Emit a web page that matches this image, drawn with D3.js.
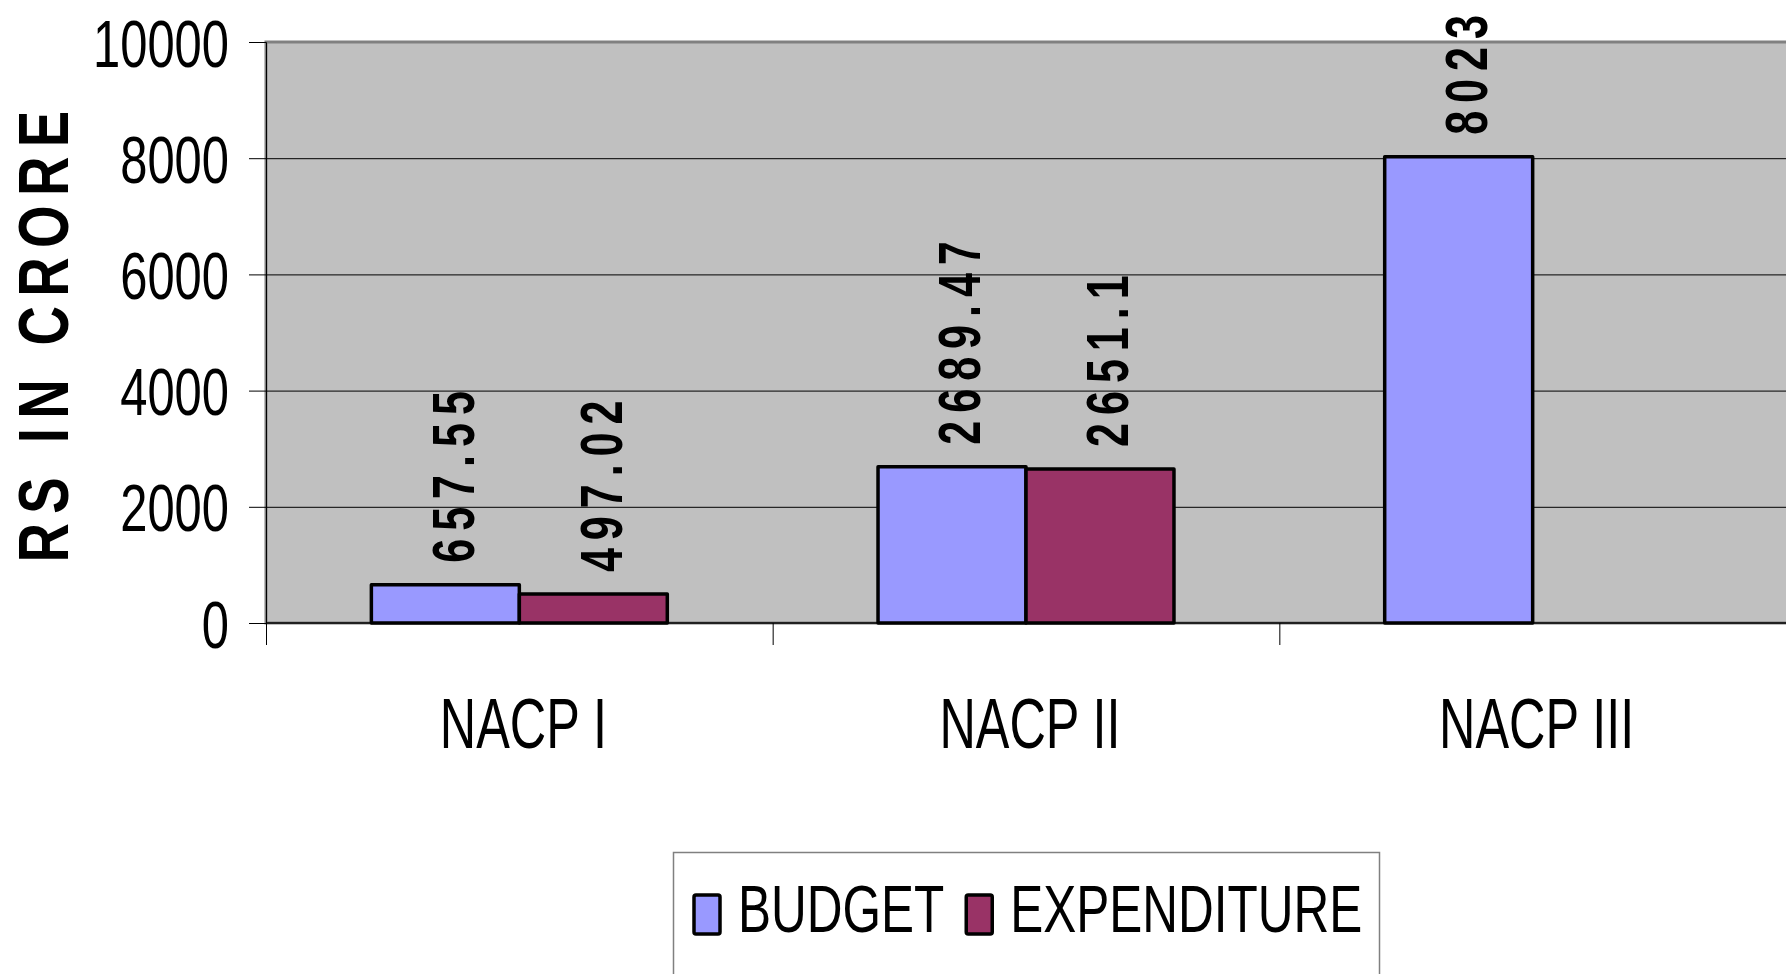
<!DOCTYPE html>
<html lang="en">
    <head>
        <title>NACP budget and expenditure</title>
        <script src="https://d3js.org/d3.v7.min.js"></script>
        <style>
            body { margin: 0; background: #fff; }
            text { font-family: "Liberation Sans", Arial, sans-serif; fill: #000; }
        </style>
    </head>
    <body>

    <div id="mainDiv"></div>

        <script type="text/javascript">
            // data
            const categories = ['NACP I', 'NACP II', 'NACP III']
            const seriesNames = ['BUDGET', 'EXPENDITURE']
            const budget = [657.55, 2689.47, 8023]
            const expenditure = [497.02, 2651.1, null] // no expenditure bar for NACP III
            const yTicks = [0, 2000, 4000, 6000, 8000, 10000]
            const colors = ['#9999FF', '#993366']

            const width = 1786
            const height = 974
            const plot = { left: 266, right: 1786, top: 42, bottom: 623 }

            const svg = d3.select('#mainDiv').append('svg')
                .attr('width', width)
                .attr('height', height)

            const x0 = d3.scaleBand()
                .domain(categories)
                .range([plot.left, plot.right])
                .padding(0)
            const x1 = d3.scaleBand()
                .domain(seriesNames)
                .range([0, x0.bandwidth()])
                .paddingInner(0)
                .paddingOuter(0.712)
            const yScale = d3.scaleLinear()
                .domain([0, 10000])
                .range([plot.bottom, plot.top])

            // plot background with grey frame
            svg.append('rect')
                .attr('x', plot.left)
                .attr('y', plot.top)
                .attr('width', plot.right - plot.left + 10)
                .attr('height', plot.bottom - plot.top)
                .style('fill', '#C0C0C0')
                .style('stroke', '#808080')
                .style('stroke-width', 3)

            // gridlines
            svg.append('g')
                .selectAll('line')
                .data(yTicks.filter(t => t > 0 && t < 10000))
                .enter()
                .append('line')
                .attr('x1', plot.left)
                .attr('x2', width)
                .attr('y1', d => yScale(d) + 0.5)
                .attr('y2', d => yScale(d) + 0.5)
                .style('stroke', '#000')
                .style('stroke-width', 1)

            // bars
            const series = [budget, expenditure]
            const rows = []
            categories.forEach((c, i) => {
                seriesNames.forEach((s, j) => {
                    if (series[j][i] != null) rows.push({ cat: c, name: s, value: series[j][i], color: colors[j] })
                })
            })

            svg.append('g')
                .selectAll('rect')
                .data(rows)
                .enter()
                .append('rect')
                .attr('x', d => x0(d.cat) + x1(d.name))
                .attr('y', d => yScale(d.value))
                .attr('width', x1.bandwidth())
                .attr('height', d => yScale(0) - yScale(d.value))
                .style('fill', d => d.color)
                .style('stroke', '#000')
                .style('stroke-width', 3.5)
                .style('stroke-linejoin', 'round')

            // value labels, rotated
            svg.append('g')
                .selectAll('text')
                .data(rows)
                .enter()
                .append('text')
                .attr('transform', d => {
                    const cx = x0(d.cat) + x1(d.name) + x1.bandwidth() / 2
                    return `translate(${cx}, ${yScale(d.value) - 22}) rotate(-90) scale(0.72, 1)`
                })
                .attr('dy', '0.47em')
                .style('font-size', '60px')
                .style('font-weight', 'bold')
                .style('letter-spacing', '11px')
                .text(d => String(d.value))

            // y axis
            const yAxis = d3.axisLeft(yScale)
                .tickValues(yTicks)
                .tickSize(17)
                .tickFormat(d3.format('d'))
            const yG = svg.append('g')
                .attr('transform', `translate(${plot.left}, 0)`)
                .call(yAxis)
            yG.select('.domain').style('stroke', '#000').style('stroke-width', 1)
            yG.selectAll('.tick line').style('stroke', '#000')
            yG.selectAll('.tick text')
                .attr('x', 0)
                .attr('dy', '0.36em')
                .attr('transform', 'translate(-37, 0) scale(0.73, 1)')
                .style('font-size', '67px')
                .style('font-family', '"Liberation Sans", Arial, sans-serif')
                .style('fill', '#000')

            // x axis: line at zero and category boundary ticks
            svg.append('line')
                .attr('x1', plot.left)
                .attr('x2', width)
                .attr('y1', yScale(0))
                .attr('y2', yScale(0))
                .style('stroke', '#000')
                .style('stroke-width', 1.5)
            svg.append('g')
                .selectAll('line')
                .data(categories)
                .enter()
                .append('line')
                .attr('x1', d => x0(d) + 0.5)
                .attr('x2', d => x0(d) + 0.5)
                .attr('y1', yScale(0))
                .attr('y2', yScale(0) + 22)
                .style('stroke', '#000')
                .style('stroke-width', 1)

            svg.append('g')
                .selectAll('text')
                .data(categories)
                .enter()
                .append('text')
                .attr('transform', d => `translate(${x0(d) + x0.bandwidth() / 2 + 4}, 748) scale(0.71, 1)`)
                .attr('text-anchor', 'middle')
                .style('font-size', '71px')
                .text(d => d)

            // y axis title
            svg.append('text')
                .attr('transform', 'translate(43, 332) rotate(-90) scale(0.78, 1)')
                .attr('text-anchor', 'middle')
                .attr('dy', '0.36em')
                .style('font-size', '70px')
                .style('font-weight', 'bold')
                .style('letter-spacing', '12px')
                .text('RS IN CRORE')

            // legend
            const legend = svg.append('g')
            legend.append('rect')
                .attr('x', 673.5)
                .attr('y', 852.5)
                .attr('width', 706)
                .attr('height', 200)
                .style('fill', '#fff')
                .style('stroke', '#808080')
                .style('stroke-width', 1.5)

            let lx = 694
            seriesNames.forEach((name, i) => {
                legend.append('rect')
                    .attr('x', lx)
                    .attr('y', 895)
                    .attr('width', 26)
                    .attr('height', 39)
                    .attr('rx', 2)
                    .style('fill', colors[i])
                    .style('stroke', '#000')
                    .style('stroke-width', 3.5)
                const t = legend.append('text')
                    .attr('transform', `translate(${lx + 44}, 932) scale(0.75, 1)`)
                    .style('font-size', '66px')
                    .text(name)
                lx += 44 + t.node().getComputedTextLength() * 0.75 + 22
            })
        </script>
    </body>
</html>
